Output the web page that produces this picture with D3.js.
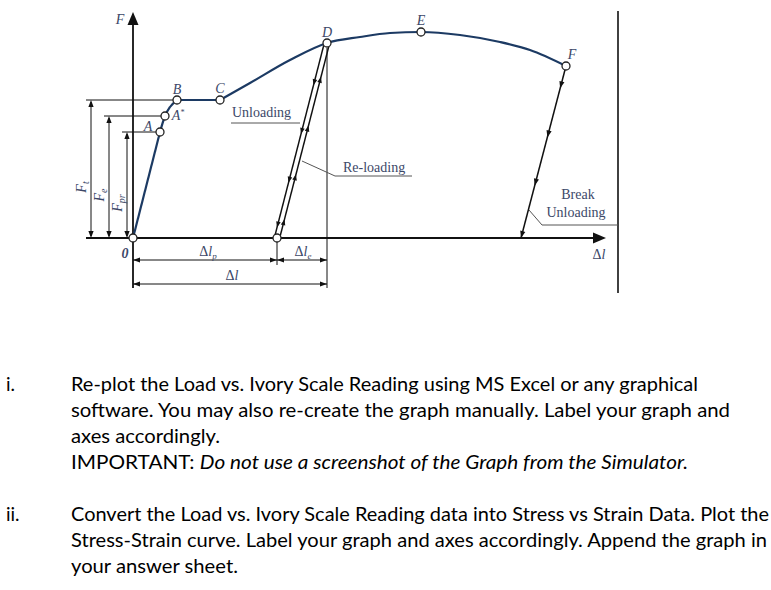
<!DOCTYPE html>
<html lang="en">
<head>
  <meta charset="UTF-8">
  <title>Load vs elongation diagram</title>
  <script src="https://d3js.org/d3.v7.min.js"></script>
  <style>
    body { margin: 0; background: #fff; }
    svg { display: block; }
    .lbl { font-family: "Liberation Serif", "DejaVu Serif", serif; font-size: 14px; fill: #3c4868; }
    .pt { font-style: italic; }
    .body-text { font-family: Lato, "Open Sans", sans-serif; font-size: 19px; fill: #000; }
  </style>
</head>
<body>
  <script>
    // loading curve (elongation Δl vs force F)
    const curveDl = [0, 27, 32, 37, 44, 87, 117, 157, 194, 227, 257, 288, 327, 367, 397, 433];
    const curveF  = [0, 106, 122, 131, 138, 138, 155, 178, 195, 201, 205, 206, 203, 196, 188, 172];

    // marked points on the curve: name + index into the curve arrays
    const markNames = ["0", "A", "A*", "B", "C", "D", "E", "F"];
    const markIdx   = [0, 1, 2, 4, 5, 8, 11, 15];

    const unloadEndDl = 144;   // residual (plastic) elongation after unloading from D
    const breakEndDl  = 388;   // end of break unloading from F
    const axisMaxDl = 472;
    const axisMaxF = 226;

    const textLines = [
      { num: "i.", parts: [["Re-plot the Load vs. Ivory Scale Reading using MS Excel or any graphical", false]], w: 627 },
      { parts: [["software. You may also re-create the graph manually. Label your graph and", false]], w: 659 },
      { parts: [["axes accordingly.", false]] },
      { parts: [["IMPORTANT: ", false], ["Do not use a screenshot of the Graph from the Simulator.", true]], w: 617 },
      { num: "ii.", parts: [["Convert the Load vs. Ivory Scale Reading data into Stress vs Strain Data. Plot the", false]], w: 698 },
      { parts: [["Stress-Strain curve. Label your graph and axes accordingly. Append the graph in", false]], w: 696 },
      { parts: [["your answer sheet.", false]] }
    ];
    const textBaselines = [391, 417, 443, 469, 521, 547, 573];

    const width = 771, height = 590;
    const svg = d3.select("body").append("svg")
      .attr("width", width).attr("height", height);

    const x = d3.scaleLinear().domain([0, 500]).range([133, 633]);
    const y = d3.scaleLinear().domain([0, 226]).range([238, 12]);

    const pts = curveDl.map((d, i) => [x(d), y(curveF[i])]);
    const P = i => pts[markIdx[i]];
    const ink = "#111";
    const navy = "#1c3a63";

    function arrow(g, px, py, ang, len = 7, w = 2.6) {
      g.append("path")
        .attr("d", `M0,0L${-len},${-w}L${-len},${w}Z`)
        .attr("transform", `translate(${px},${py}) rotate(${ang})`)
        .attr("fill", ink);
    }
    function line(g, x1, y1, x2, y2, sw = 1, col = ink) {
      g.append("line").attr("x1", x1).attr("y1", y1).attr("x2", x2).attr("y2", y2)
        .attr("stroke", col).attr("stroke-width", sw);
    }

    const g = svg.append("g");
    const x0 = x(0), y0 = y(0);
    const D = P(5), F = P(7);
    const xUnl = x(unloadEndDl), xBrk = x(breakEndDl);

    // right border line
    line(g, 618, 11, 618, 293, 1.6);

    // axes
    line(g, x0, y0 + 50, x0, y(axisMaxF) + 8, 1.8);
    arrow(g, x0, y(axisMaxF), -90, 13, 5.5);
    line(g, 86, y0, x(axisMaxDl) - 8, y0, 1.8);
    arrow(g, x(axisMaxDl) + 1, y0, 0, 13, 5.5);

    // left dimension lines (F_t, F_e, F_pr)
    const dims = [
      { xl: 91, p: P(3), name: "F", sub: "t" },
      { xl: 109, p: P(2), name: "F", sub: "e" },
      { xl: 127, p: P(1), name: "F", sub: "pr" }
    ];
    dims.forEach(d => {
      line(g, d.xl - 5, d.p[1], d.p[0], d.p[1], 1);
      line(g, d.xl, d.p[1] + 2, d.xl, y0 - 2, 1);
      arrow(g, d.xl, d.p[1], -90);
      arrow(g, d.xl, y0, 90);
      const cy = (d.p[1] + y0) / 2 + 18;
      const t = g.append("text").attr("class", "lbl pt")
        .attr("transform", `translate(${d.xl - 5},${cy}) rotate(-90)`)
        .attr("text-anchor", "middle").attr("font-size", 14);
      t.append("tspan").text(d.name);
      t.append("tspan").attr("dy", 3).attr("font-size", 10).attr("font-style", "italic").text(d.sub);
    });

    // bottom dimension lines
    line(g, D[0], D[1] + 5, D[0], y0 + 50, 1);
    line(g, xUnl, y0 + 4, xUnl, y0 + 27, 1);
    const dimY1 = y0 + 22, dimY2 = y0 + 46;
    line(g, x0, dimY1, D[0], dimY1, 1);
    arrow(g, x0, dimY1, 180); arrow(g, xUnl, dimY1, 0);
    arrow(g, xUnl, dimY1, 180); arrow(g, D[0], dimY1, 0);
    line(g, x0, dimY2, D[0], dimY2, 1);
    arrow(g, x0, dimY2, 180); arrow(g, D[0], dimY2, 0);

    function dl(px, py, sub) {
      const t = g.append("text").attr("class", "lbl").attr("x", px).attr("y", py).attr("text-anchor", "middle");
      t.append("tspan").text("Δ");
      t.append("tspan").attr("font-style", "italic").text("l");
      if (sub) t.append("tspan").attr("dy", 3).attr("font-size", 9).attr("font-style", "italic").text(sub);
    }
    dl((x0 + xUnl) / 2 + 3, y0 + 18, "p");
    dl((xUnl + D[0]) / 2 + 1, y0 + 18, "e");
    dl((x0 + D[0]) / 2 + 2, y0 + 42);
    dl(x(axisMaxDl) - 6, y0 + 21);

    // loading curve
    const seg = (a, b) => pts.slice(a, b + 1);
    [[0, 1, d3.curveLinear], [1, 4, d3.curveMonotoneX], [4, 5, d3.curveLinear], [5, 15, d3.curveMonotoneX]]
      .forEach(([a, b, c]) => {
        g.append("path").attr("d", d3.line().curve(c)(seg(a, b)))
          .attr("fill", "none").attr("stroke", navy).attr("stroke-width", 2.2);
      });

    // unloading / re-loading from D (double line)
    const ux = D[0] - xUnl, uy = D[1] - y0, ul = Math.hypot(ux, uy);
    const nx = -uy / ul, ny = ux / ul;
    const off = 2.6;
    [-1, 1].forEach(s => {
      line(g, xUnl + s * nx * off, y0 + s * ny * off, D[0] + s * nx * off, D[1] + s * ny * off, 1.5);
    });
    const angUp = Math.atan2(uy, ux) * 180 / Math.PI;
    [0.07, 0.3, 0.55, 0.8].forEach(t => {
      // left line carries unloading (down), right line re-loading (up)
      arrow(g, xUnl + ux * (t - 0.02) - nx * off, y0 + uy * (t - 0.02) - ny * off, angUp + 180, 6, 2.3);
      arrow(g, xUnl + ux * (t + 0.03) + nx * off, y0 + uy * (t + 0.03) + ny * off, angUp, 6, 2.3);
    });

    // break unloading from F
    line(g, F[0], F[1], xBrk, y0, 1.5);
    [0.13, 0.415, 0.696, 1.0].forEach(t => {
      const bx = F[0] + (xBrk - F[0]) * t, by = F[1] + (y0 - F[1]) * t;
      arrow(g, bx, by, Math.atan2(y0 - F[1], xBrk - F[0]) * 180 / Math.PI, 7, 2.6);
    });

    // marked points
    const circ = markIdx.map(i => pts[i]).concat([[xUnl, y0]]);
    g.selectAll("circle.m").data(circ).join("circle").attr("class", "m")
      .attr("cx", d => d[0]).attr("cy", d => d[1]).attr("r", 4)
      .attr("fill", "#fff").attr("stroke", "#222").attr("stroke-width", 1.3);

    const labelOff = { "0": [-8, 16], "A": [-12, -5], "A*": [13, 0], "B": [0, -10], "C": [0, -11], "D": [0, -10], "E": [0, -11], "F": [6, -11] };
    markNames.forEach((n, i) => {
      const p = P(i), o = labelOff[n];
      const t = g.append("text").attr("class", "lbl pt").attr("text-anchor", "middle")
        .attr("x", p[0] + o[0]).attr("y", p[1] + o[1] + 4).attr("font-size", 13);
      if (n === "0") t.attr("font-style", "normal").attr("font-weight", "bold").text("0");
      else if (n === "A*") { t.append("tspan").text("A"); t.append("tspan").attr("dy", -5).attr("font-size", 8).text("*"); }
      else t.text(n);
    });
    g.append("text").attr("class", "lbl pt").attr("x", x0 - 13).attr("y", 24)
      .attr("text-anchor", "middle").attr("font-size", 15).text("F");

    // callout labels
    g.append("text").attr("class", "lbl").attr("x", 232).attr("y", 117).text("Unloading");
    line(g, 231, 123, 300, 123, 1, "#555");
    g.append("text").attr("class", "lbl").attr("x", 343).attr("y", 172).text("Re-loading");
    line(g, 335, 176, 412, 176, 1, "#555");
    line(g, 335, 176, 302, 161, 1, "#555");
    g.append("text").attr("class", "lbl").attr("x", 578).attr("y", 199).attr("text-anchor", "middle").text("Break");
    g.append("text").attr("class", "lbl").attr("x", 576).attr("y", 217).attr("text-anchor", "middle").text("Unloading");
    line(g, 542, 225, 618, 225, 1, "#555");
    line(g, 542, 225, 529, 210, 1, "#555");

    // question text
    const ratios = [];
    const texts = textLines.map((ln, i) => {
      if (ln.num) svg.append("text").attr("class", "body-text").attr("x", 6).attr("y", textBaselines[i]).text(ln.num);
      const t = svg.append("text").attr("class", "body-text").attr("x", 71).attr("y", textBaselines[i]);
      ln.parts.forEach(([s, it]) => t.append("tspan").attr("font-style", it ? "italic" : null).text(s));
      const nat = t.node().getComputedTextLength();
      if (ln.w) { ratios.push(ln.w / nat); t.attr("textLength", ln.w).attr("lengthAdjust", "spacingAndGlyphs"); }
      return [t, nat];
    });
    const avg = d3.mean(ratios);
    texts.forEach(([t, nat], i) => {
      if (!textLines[i].w) t.attr("textLength", nat * avg).attr("lengthAdjust", "spacingAndGlyphs");
    });
  </script>
</body>
</html>
